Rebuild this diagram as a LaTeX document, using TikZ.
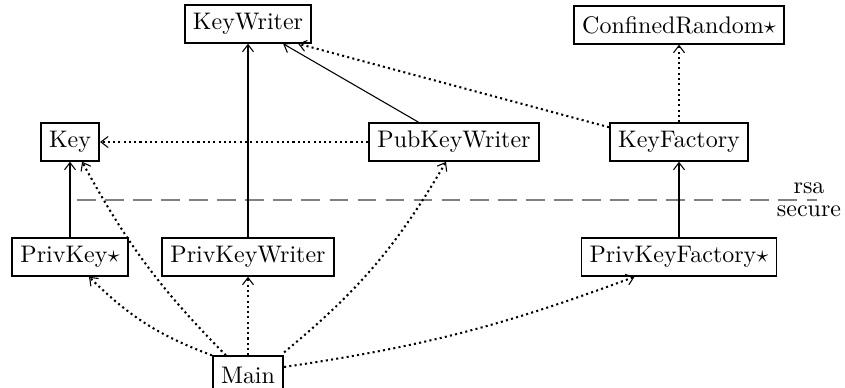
\documentclass[tikz,border=0pt]{standalone}
\usetikzlibrary{arrows.meta,calc}
\begin{document}
\begin{tikzpicture}[x=0.417pt,y=-0.417pt,
  box/.style={draw,line width=0.8pt,inner sep=3.4pt,minimum height=15.6pt},
  arr/.style={-{Straight Barb[length=3pt,width=4.6pt,line width=0.45pt]}},
  solidedge/.style={arr,line width=0.8pt},
  thinedge/.style={arr,line width=0.45pt},
  dotedge/.style={arr,line width=0.85pt,dash pattern=on 0.85pt off 1.35pt},
  sep/.style={line width=0.8pt,black!50,dash pattern=on 7.8pt off 3.9pt},
  lbl/.style={inner sep=2.4pt}]
\useasboundingbox (0,0) rectangle (845,387);
\clip (0,0) rectangle (845,387);
% nodes
\node[box] (KeyWriter) at (248,24) {KeyWriter};
\node[box] (ConfinedRandom) at (679,25) {ConfinedRandom$\star$};
\node[box] (Key) at (70,142) {Key};
\node[box] (PubKeyWriter) at (454,142) {PubKeyWriter};
\node[box] (KeyFactory) at (679,142) {KeyFactory};
\node[box] (PrivKey) at (70,257) {PrivKey$\star$};
\node[box] (PrivKeyWriter) at (248,257) {PrivKeyWriter};
\node[box] (PrivKeyFactory) at (679,257) {PrivKeyFactory$\star$};
\node[box] (Main) at (248,375) {Main};
% separator
\coordinate (dl) at (77,200);
\coordinate (dr) at (817,200);
\draw[sep] (dl) -- (dr);
\coordinate (lblpt) at (809,200);
\node[lbl,anchor=south] (rsa) at (lblpt) {rsa};
\node[lbl,anchor=north] (secure) at (lblpt) {secure};
% solid edges
\draw[solidedge] (PrivKey) -- (Key);
\draw[solidedge] (PrivKeyWriter) -- (KeyWriter);
\draw[solidedge] (PrivKeyFactory) -- (KeyFactory);
\draw[thinedge] ($(PubKeyWriter.north west)+(50,0)$) -- ($(KeyWriter.south east)+(-29,0)$);
% dotted edges
\draw[dotedge] (PubKeyWriter) -- (Key);
\draw[dotedge] (KeyFactory) -- (ConfinedRandom);
\draw[dotedge] ($(KeyFactory.north west)+(0,5)$) -- ($(KeyWriter.south east)+(-14,0)$);
\draw[dotedge] (Main) -- (PrivKeyWriter);
\draw[dotedge] (Main.north west) to[bend left=12] ($(PrivKey.south)+(19,0)$);
\draw[dotedge] ($(Main.north west)+(14,0)$) to[bend left=8] ($(Key.south east)+(-18,0)$);
\draw[dotedge] ($(Main.north east)+(0,-3)$) to[bend right=10] ($(PubKeyWriter.south)+(-8,0)$);
\draw[dotedge] ($(Main.east)+(0,-8)$) to[bend right=6] ($(PrivKeyFactory.south west)+(54,0)$);
\end{tikzpicture}
\end{document}
